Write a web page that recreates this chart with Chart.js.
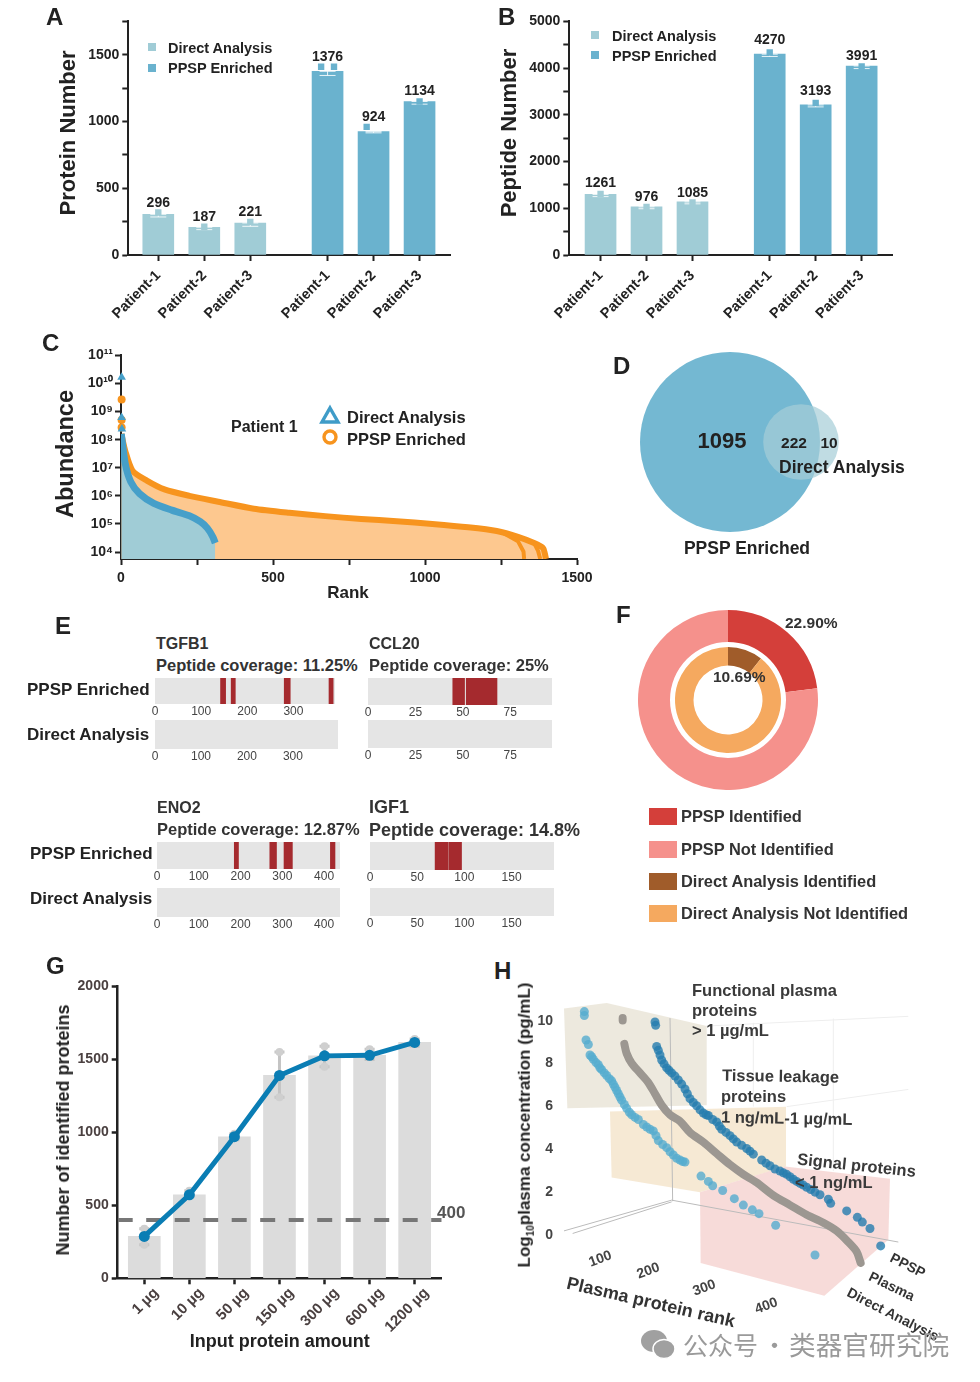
<!DOCTYPE html>
<html>
<head>
<meta charset="utf-8">
<script src="https://cdn.jsdelivr.net/npm/chart.js@4"></script>
<style>
  html, body { margin: 0; background: #fff; }
  #page { position: relative; width: 980px; height: 1382px; overflow: hidden; font-family: "Liberation Sans", Arial, sans-serif; color: #222; }
  #page canvas { position: absolute; }
  .t { position: absolute; white-space: pre; font-weight: bold; line-height: 1; }
  .box { position: absolute; }
</style>
</head>
<body>
<div id="page"></div>
<script>
// ---- data ----
const patients = ['Patient-1', 'Patient-2', 'Patient-3', 'Patient-1', 'Patient-2', 'Patient-3'];
const barSlots = [0, 1, 2, 3.68, 4.68, 5.68];

const proteinLabels = ['296', '187', '221', '1376', '924', '1134'];
const proteinBars = [305, 208, 240, 1376, 924, 1150];
const proteinTop = [332, 225, 262, 1425, 975, 1165];
const proteinLow = [285, 190, 215, 1345, 915, 1130];
const proteinRepX = [0, 1, 2, 3.54, 3.82, 4.53, 5.68];
const proteinRepY = [318, 212, 248, 1410, 1410, 960, 1150];

const peptideLabels = ['1261', '976', '1085', '4270', '3193', '3991'];
const peptideBars = [1297, 1031, 1136, 4299, 3212, 4046];
const peptideTop = [1368, 1066, 1150, 4418, 3345, 4081];
const peptideLow = [1250, 990, 1095, 4250, 3170, 3990];

const abundanceTicks = [1e4, 1e5, 1e6, 1e7, 1e8, 1e9, 1e10, 1e11];
const abundanceNames = ['10⁴', '10⁵', '10⁶', '10⁷', '10⁸', '10⁹', '10¹⁰', '10¹¹'];
const ppspRank = [1, 14, 38, 85, 143, 225, 320, 437, 554, 672, 790, 907, 1024, 1142, 1236, 1306, 1359, 1388, 1394, 1398];
const ppspAbundance = [1.6e8, 4e7, 7.9e6, 3.5e6, 1.7e6, 1e6, 6.2e5, 3.5e5, 2.5e5, 1.9e5, 1.5e5, 1.26e5, 1e5, 7.6e4, 5.6e4, 3.5e4, 2.1e4, 1.4e4, 9.1e3, 5.7e3];
const ppspRank2 = [1236, 1259, 1306, 1324, 1326];
const ppspAbundance2 = [5.6e4, 4.7e4, 2.4e4, 1.05e4, 5.7e3];
const ppspRank3 = [1359, 1372, 1379];
const ppspAbundance3 = [2.1e4, 1.1e4, 5.7e3];
const directRank = [1, 14, 32, 61, 108, 167, 225, 261, 284, 302, 310];
const directAbundance = [1.6e8, 1.4e7, 3.2e6, 1.2e6, 5.4e5, 3.1e5, 1.95e5, 1.2e5, 7.1e4, 3.5e4, 2.1e4];
const ppspTopRank = [2, 2, 2];
const ppspTopAbundance = [2.7e9, 5e8, 2.7e8];
const directTopRank = [2, 2, 3];
const directTopAbundance = [1.66e10, 6.2e8, 2.4e8];

const vennSets = [1317, 232];
const vennCentres = [730, 801];

const ppspShare = [22.9, 77.1];
const directShare = [10.69, 89.31];

const covStrips = [
  // left, top, width, height, sequence length, tick values, covered ranges
  { left: 155, top: 678, w: 180, h: 26, len: 390, ticks: [0, 100, 200, 300], cover: [[142, 153], [165, 174], [280, 293], [377, 386]] },
  { left: 155, top: 720, w: 183, h: 29, len: 398, ticks: [0, 100, 200, 300], cover: [] },
  { left: 368, top: 678, w: 184, h: 27, len: 97, ticks: [0, 25, 50, 75], cover: [[44.7, 50.9], [51.8, 68]] },
  { left: 368, top: 720, w: 184, h: 28, len: 97, ticks: [0, 25, 50, 75], cover: [] },
  { left: 157, top: 842, w: 183, h: 27, len: 438, ticks: [0, 100, 200, 300, 400], cover: [[185, 195], [270, 286], [304, 324], [415, 426]] },
  { left: 157, top: 888, w: 183, h: 29, len: 438, ticks: [0, 100, 200, 300, 400], cover: [] },
  { left: 370, top: 842, w: 184, h: 28, len: 195, ticks: [0, 50, 100, 150], cover: [[69, 83], [84, 97]] },
  { left: 370, top: 888, w: 184, h: 28, len: 195, ticks: [0, 50, 100, 150], cover: [] }
];

const inputAmounts = ['1 µg', '10 µg', '50 µg', '150 µg', '300 µg', '600 µg', '1200 µg'];
const inputBars = [287, 572, 970, 1390, 1524, 1528, 1616];
const inputRepX = [0, 0, 1, 2, 3, 3, 4, 4, 5, 6];
const inputRepY = [230, 340, 600, 990, 1550, 1240, 1590, 1450, 1570, 1640];
const inputLow = [230, 560, 950, 1240, 1450, 1500, 1590];
const inputHigh = [340, 600, 990, 1550, 1590, 1570, 1640];
const cutoff = 400;

const directX = [283, 283, 288, 295, 300, 310, 325, 335, 350, 365, 375, 385, 395, 410, 425, 445, 470, 490, 505, 530, 550, 570, 585, 633, 655, 668, 698, 733, 760, 787, 807, 857, 975,
  305, 318, 330, 343, 358, 370, 380, 390, 403, 418, 435, 460, 480, 498, 518, 540, 560, 578];
const directY = [10.42, 10.24, 9.1, 8.89, 8.4, 8.2, 7.95, 7.72, 7.45, 7.2, 6.9, 6.6, 6.3, 5.92, 5.62, 5.4, 5.05, 4.87, 4.42, 4.09, 3.75, 3.52, 3.42, 2.77, 2.52, 2.32, 2.1, 1.72, 1.42, 1.2, 1.02, 0.48, -0.9,
  8.32, 8.05, 7.8, 7.57, 7.3, 7.05, 6.75, 6.45, 6.1, 5.74, 5.5, 5.17, 4.95, 4.65, 4.24, 3.9, 3.6, 3.45];
const enrichedX = [495, 497, 500, 505, 515, 530, 545, 565, 585, 600, 620, 640, 655, 680, 695, 720, 740, 770, 790, 815, 840, 870, 890, 910, 930, 950, 975, 990, 1015, 1022, 1070, 1102, 1117, 1140, 1172,
  510, 522, 537, 555, 575, 592, 610, 630, 648, 668, 688, 708, 730, 755, 780, 828, 855, 880, 900, 920, 940, 962];
const enrichedY = [9.94, 9.78, 8.8, 8.62, 8.17, 7.8, 7.57, 7.24, 6.82, 6.37, 6.04, 5.7, 5.59, 5.29, 4.95, 4.65, 4.35, 4.05, 3.79, 3.52, 3.25, 3, 2.85, 2.62, 2.43, 2.25, 2.02, 1.9, 1.69, 1.5, 1.15, 0.85, 0.63, 0.33, -0.48,
  8.4, 7.99, 7.69, 7.42, 7.05, 6.6, 6.19, 5.85, 5.62, 5.4, 5.1, 4.8, 4.5, 4.2, 3.93, 3.37, 3.1, 2.92, 2.74, 2.52, 2.35, 2.14];
const plasmaTopX = [398, 398];
const plasmaTopY = [10.12, 10.01];
const plasmaX = [403, 410, 425, 450, 475, 495, 515, 540, 570, 600, 640, 680, 720, 760, 800, 850, 900, 950, 1000, 1040, 1075, 1100, 1112];
const plasmaY = [8.92, 8.47, 8.02, 7.57, 7.12, 6.6, 6.07, 5.62, 5.32, 4.8, 4.35, 3.82, 3.3, 2.85, 2.47, 1.87, 1.42, 0.97, 0.6, 0.22, -0.3, -0.75, -1.27];
const planes = [
  { color: 'rgba(232,227,214,.8)', pts: [[222, 10.57], [350, 10.82], [650, 9.75], [650, 6.07], [232, 5.92]] },
  { color: 'rgba(245,229,205,.85)', pts: [[360, 5.77], [888, 6], [888, 3.22], [630, 2.02], [365, 2.7]] },
  { color: 'rgba(246,213,210,.85)', pts: [[630, 2.02], [885, 3.22], [1200, 2.65], [1195, -0.19], [1003, -2.8], [632, -1.27]] }
];
const frameLines = [
  [[222, 0.22], [545, 1.65]], [[248, 0.1], [545, 1.57]], [[545, 1.65], [1225, -0.3]], [[540, 10.12], [548, 1.6]]
];
const faintLines = [
  [[650, 9.75], [1255, 10.2]], [[790, 9.9], [790, 6]], [[1030, 10.1], [1030, 3]], [[890, 6], [1255, 6.8]]
];

// ---- helpers ----
const page = document.getElementById('page');
Chart.defaults.font.family = '"Liberation Sans", Arial, sans-serif';
Chart.defaults.font.weight = 'bold';
Chart.defaults.color = '#222';
Chart.defaults.animation = false;
Chart.defaults.layout.autoPadding = false;

function makeCanvas(left, top, w, h) {
  const c = document.createElement('canvas');
  c.width = w; c.height = h;
  c.style.left = left + 'px'; c.style.top = top + 'px';
  c.style.width = w + 'px'; c.style.height = h + 'px';
  page.appendChild(c);
  return c;
}

function label(text, x, y, size, opts) {
  opts = opts || {};
  const d = document.createElement('div');
  d.className = 't';
  d.innerHTML = text;
  d.style.left = x + 'px'; d.style.top = y + 'px';
  d.style.fontSize = size + 'px';
  if (opts.color) d.style.color = opts.color;
  if (opts.font) d.style.fontFamily = opts.font;
  if (opts.normal) d.style.fontWeight = 'normal';
  const shift = opts.center ? '-50%' : '0';
  d.style.transform = 'translate(' + shift + ',-50%)' + (opts.rot ? ' rotate(' + opts.rot + 'deg)' : '');
  d.style.zIndex = 5;
  page.appendChild(d);
  return d;
}

function swatch(x, y, w, h, color) {
  const d = document.createElement('div');
  d.className = 'box';
  d.style.cssText += 'left:' + x + 'px;top:' + y + 'px;width:' + w + 'px;height:' + h + 'px;background:' + color + ';z-index:5';
  page.appendChild(d);
}

function inlay(b, p) {
  return {
    padding: { left: 0, top: p.top - b.top, right: b.left + b.w - p.right, bottom: 0 },
    yWidth: p.left - b.left,
    xHeight: b.top + b.h - p.bottom
  };
}

function axisLook(width) {
  return {
    offset: false,
    border: { display: true, color: '#222', width: width },
    grid: { offset: false, drawOnChartArea: false, drawTicks: true, tickLength: 6, tickWidth: width, color: '#222' }
  };
}

function whiskers(xs, lows, highs, color, width, cap) {
  return {
    id: 'whiskers',
    afterDatasetDraw(chart, args) {
      if (args.index !== 0) return;
      const ctx = chart.ctx, sx = chart.scales.x, sy = chart.scales.y;
      ctx.save();
      ctx.strokeStyle = color; ctx.lineWidth = width;
      xs.forEach((v, i) => {
        const px = sx.getPixelForValue(v), lo = sy.getPixelForValue(lows[i]), hi = sy.getPixelForValue(highs[i]);
        ctx.beginPath();
        ctx.moveTo(px, lo); ctx.lineTo(px, hi);
        ctx.moveTo(px - cap, lo); ctx.lineTo(px + cap, lo);
        ctx.moveTo(px - cap, hi); ctx.lineTo(px + cap, hi);
        ctx.stroke();
      });
      ctx.restore();
    }
  };
}

function patientBars(cfg) {
  const fit = inlay(cfg.box, cfg.plot);
  const colors = barSlots.map((_, i) => i < 3 ? '#a0ccd6' : '#6ab2ce');
  const repX = cfg.repX || barSlots;
  const repY = cfg.repY || cfg.top.map((v, i) => (v + cfg.low[i]) / 2);
  new Chart(makeCanvas(cfg.box.left, cfg.box.top, cfg.box.w, cfg.box.h), {
    type: 'bar',
    data: {
      datasets: [{
        data: barSlots.map((x, i) => ({ x: x, y: cfg.bars[i] })),
        backgroundColor: colors, barThickness: 31, order: 3
      }, {
        type: 'scatter',
        data: repX.map((x, i) => ({ x: x, y: repY[i] })),
        pointStyle: 'rect', pointRadius: 4.5, pointBackgroundColor: repX.map(x => x < 3 ? '#a0ccd6' : '#6ab2ce'), pointBorderWidth: 0, order: 2
      }]
    },
    options: {
      responsive: false,
      layout: { padding: fit.padding },
      plugins: { legend: { display: false }, tooltip: { enabled: false } },
      scales: {
        x: Object.assign(axisLook(2), {
          type: 'linear', min: cfg.xMin, max: cfg.xMax,
          afterBuildTicks(s) { s.ticks = barSlots.map(v => ({ value: v })); },
          afterFit(s) { s.height = fit.xHeight; },
          ticks: { autoSkip: false, minRotation: 45, maxRotation: 45, padding: 6, font: { size: 14.5 }, callback: (v, i) => patients[i] }
        }),
        y: Object.assign(axisLook(2), {
          min: 0, max: cfg.max,
          afterFit(s) { s.width = fit.yWidth; },
          ticks: {
            stepSize: cfg.minor, includeBounds: false, padding: 3, font: { size: 14 },
            callback: v => v % cfg.major === 0 ? String(v) : ''
          }
        })
      }
    },
    plugins: [whiskers(barSlots, cfg.low, cfg.top.map((v, i) => Math.min(v, cfg.bars[i])), 'rgba(255,255,255,.85)', 1, 8), {
      id: 'valueLabels',
      afterDatasetsDraw(chart) {
        const ctx = chart.ctx;
        ctx.save();
        ctx.font = 'bold 14px "Liberation Sans"';
        ctx.fillStyle = '#222'; ctx.textAlign = 'center'; ctx.textBaseline = 'middle';
        barSlots.forEach((x, i) => {
          ctx.fillText(cfg.labels[i], chart.scales.x.getPixelForValue(x), chart.scales.y.getPixelForValue(cfg.top[i]) - 8);
        });
        ctx.restore();
      }
    }]
  });
}

// ---- A ----
patientBars({
  box: { left: 55, top: 10, w: 405, h: 320 }, plot: { left: 128.3, top: 17.8, right: 450.7, bottom: 255 },
  xMin: -0.652, xMax: 6.357, max: 1750, minor: 250, major: 500,
  bars: proteinBars, top: proteinTop, low: proteinLow, labels: proteinLabels, repX: proteinRepX, repY: proteinRepY
});
label('A', 46, 17, 24);
label('Protein Number', 68, 133, 22, { center: true, rot: -90 });
swatch(148, 43, 8, 8, '#a0ccd6'); swatch(148, 64, 8, 8, '#6ab2ce');
label('Direct Analysis', 168, 48, 14.5); label('PPSP Enriched', 168, 68, 14.5);

// ---- B ----
patientBars({
  box: { left: 497, top: 10, w: 405, h: 320 }, plot: { left: 569.3, top: 17.3, right: 892, bottom: 255 },
  xMin: -0.68, xMax: 6.34, max: 5000, minor: 500, major: 1000,
  bars: peptideBars, top: peptideTop, low: peptideLow, labels: peptideLabels
});
label('B', 498, 17, 24);
label('Peptide Number', 509, 133, 22, { center: true, rot: -90 });
swatch(591, 31, 8, 8, '#a0ccd6'); swatch(591, 51, 8, 8, '#6ab2ce');
label('Direct Analysis', 612, 36, 14.5); label('PPSP Enriched', 612, 56, 14.5);

// ---- C ----
(function () {
  const box = { left: 52, top: 345, w: 560, h: 258 }, fit = inlay(box, { left: 121, top: 354, right: 577, bottom: 559 });
  const pts = (xs, ys) => xs.map((x, i) => ({ x: x, y: ys[i] }));
  new Chart(makeCanvas(box.left, box.top, box.w, box.h), {
    type: 'scatter',
    data: {
      datasets: [
        { data: pts(directTopRank, directTopAbundance), pointStyle: 'triangle', pointRadius: 5, pointBackgroundColor: '#469fc9', pointBorderWidth: 0, clip: false, order: 1 },
        { data: pts(directRank, directAbundance), showLine: true, borderColor: '#469fc9', borderWidth: 7, tension: 0.25, pointRadius: 0, fill: 'start', backgroundColor: '#a0ccd6', order: 2 },
        { data: pts(ppspTopRank, ppspTopAbundance), pointRadius: 4, pointBackgroundColor: '#f7941e', pointBorderWidth: 0, clip: false, order: 3 },
        { data: pts(ppspRank3, ppspAbundance3), showLine: true, borderColor: '#f7941e', borderWidth: 4, pointRadius: 0, order: 4 },
        { data: pts(ppspRank2, ppspAbundance2), showLine: true, borderColor: '#f7941e', borderWidth: 4, pointRadius: 0, order: 5 },
        { data: pts(ppspRank, ppspAbundance), showLine: true, borderColor: '#f7941e', borderWidth: 6, tension: 0.25, pointRadius: 0, fill: 'start', backgroundColor: '#fdc88f', order: 6 }
      ]
    },
    options: {
      responsive: false,
      layout: { padding: fit.padding },
      plugins: { legend: { display: false }, tooltip: { enabled: false } },
      scales: {
        x: Object.assign(axisLook(2), {
          type: 'linear', min: 0, max: 1500,
          afterFit(s) { s.height = fit.xHeight; },
          ticks: { stepSize: 250, maxRotation: 0, padding: 5, font: { size: 14 }, callback: v => v % 500 === 0 ? String(v) : '' }
        }),
        y: Object.assign(axisLook(2), {
          type: 'logarithmic', min: 5660, max: 1e11,
          afterBuildTicks(s) { s.ticks = abundanceTicks.map(v => ({ value: v })); },
          afterFit(s) { s.width = fit.yWidth; },
          ticks: { autoSkip: false, padding: 2, font: { size: 14 }, callback: (v, i) => abundanceNames[i] }
        })
      }
    }
  });
  label('C', 42, 343, 24);
  label('Abundance', 66, 454, 23.5, { center: true, rot: -90 });
  label('Rank', 348, 592, 17, { center: true });
  label('Patient 1', 231, 427, 16);
  label('Direct Analysis', 347, 417, 16.5); label('PPSP Enriched', 347, 439, 16.5);
  const marks = document.createElement('div');
  marks.className = 'box';
  marks.style.cssText += 'left:316px;top:400px;z-index:5';
  marks.innerHTML = '<svg width="30" height="50"><path d="M14 8 L22 22 L6 22 Z" fill="none" stroke="#3f9cc8" stroke-width="3.4"/><circle cx="14" cy="37" r="6" fill="none" stroke="#f7941e" stroke-width="3.4"/></svg>';
  page.appendChild(marks);
})();

// ---- D ----
(function () {
  new Chart(makeCanvas(630, 342, 230, 200), {
    type: 'scatter',
    data: {
      datasets: [
        { data: [{ x: vennCentres[1], y: 0 }], pointRadius: Math.sqrt(vennSets[1]) * 2.48, pointBackgroundColor: 'rgba(166,205,215,.71)', pointBorderWidth: 0, clip: false, order: 1 },
        { data: [{ x: vennCentres[0], y: 0 }], pointRadius: Math.sqrt(vennSets[0]) * 2.48, pointBackgroundColor: '#74b8d2', pointBorderWidth: 0, clip: false, order: 2 }
      ]
    },
    options: {
      responsive: false,
      plugins: { legend: { display: false }, tooltip: { enabled: false } },
      scales: {
        x: { display: false, type: 'linear', min: 630, max: 860 },
        y: { display: false, min: -100, max: 100 }
      }
    }
  });
  label('D', 613, 366, 24);
  label('1095', 722, 441, 22, { center: true });
  label('222', 794, 443, 15.5, { center: true });
  label('10', 829, 443, 15.5, { center: true });
  label('Direct Analysis', 779, 468, 17.5);
  label('PPSP Enriched', 747, 549, 17.5, { center: true });
})();

// ---- E ----
covStrips.forEach(s => {
  const margin = 16, under = 20;
  const datasets = s.cover.map(r => ({ data: [r], backgroundColor: '#a52a2e', grouped: false, order: 1 }));
  datasets.push({ data: [[0, s.len]], backgroundColor: '#e5e5e5', grouped: false, order: 2 });
  new Chart(makeCanvas(s.left - margin, s.top, s.w + margin * 2, s.h + under), {
    type: 'bar',
    data: { labels: [''], datasets: datasets },
    options: {
      responsive: false,
      indexAxis: 'y',
      layout: { padding: { left: margin, right: margin, top: 0, bottom: 0 } },
      plugins: { legend: { display: false }, tooltip: { enabled: false } },
      datasets: { bar: { barPercentage: 1, categoryPercentage: 1 } },
      scales: {
        x: {
          type: 'linear', min: 0, max: s.len,
          grid: { display: false, drawTicks: false }, border: { display: false },
          afterBuildTicks(a) { a.ticks = s.ticks.map(v => ({ value: v })); },
          afterFit(a) { a.height = under; },
          ticks: { autoSkip: false, maxRotation: 0, padding: 0, color: '#444', font: { size: 12, weight: 'normal' } }
        },
        y: { display: false }
      }
    }
  });
});
label('E', 55, 626, 24);
label('TGFB1', 156, 644, 16, { color: '#333' });
label('Peptide coverage: 11.25%', 156, 665, 16.5, { color: '#333' });
label('CCL20', 369, 644, 16, { color: '#333' });
label('Peptide coverage: 25%', 369, 665, 16.5, { color: '#333' });
label('ENO2', 157, 808, 16, { color: '#333' });
label('Peptide coverage: 12.87%', 157, 829, 16.5, { color: '#333' });
label('IGF1', 369, 807, 18, { color: '#333' });
label('Peptide coverage: 14.8%', 369, 830, 18, { color: '#333' });
label('PPSP Enriched', 27, 689, 17); label('Direct Analysis', 27, 734, 17);
label('PPSP Enriched', 30, 853, 17); label('Direct Analysis', 30, 898, 17);

// ---- F ----
new Chart(makeCanvas(638, 610, 180, 180), {
  type: 'doughnut',
  data: {
    datasets: [
      { data: ppspShare, backgroundColor: ['#d43f3a', '#f5918c'], borderWidth: 0, weight: 32 },
      { data: [1], backgroundColor: ['rgba(0,0,0,0)'], borderWidth: 0, weight: 5 },
      { data: directShare, backgroundColor: ['#a05c2a', '#f5a95f'], borderWidth: 0, weight: 18.5 }
    ]
  },
  options: {
    responsive: false, cutout: 34.5,
    plugins: { legend: { display: false }, tooltip: { enabled: false } }
  }
});
label('F', 616, 615, 24);
label('22.90%', 785, 623, 15.5, { color: '#333' });
label('10.69%', 713, 677, 15.5, { color: '#333' });
[['PPSP Identified', '#d43f3a', 816], ['PPSP Not Identified', '#f5918c', 849], ['Direct Analysis Identified', '#a05c2a', 881], ['Direct Analysis Not Identified', '#f5a95f', 913]].forEach(r => {
  swatch(649, r[2] - 8.5, 28, 17, r[1]);
  label(r[0], 681, r[2], 16.4, { color: '#333' });
});

// ---- G ----
(function () {
  const slots = inputAmounts.map((_, i) => i);
  const box = { left: 50, top: 975, w: 400, h: 378 }, fit = inlay(box, { left: 117.7, top: 981, right: 441.7, bottom: 1278.3 });
  const xMin = -0.59, xMax = 6.6;
  new Chart(makeCanvas(box.left, box.top, box.w, box.h), {
    type: 'bar',
    data: {
      datasets: [
        { data: slots.map(i => ({ x: i, y: inputBars[i] })), backgroundColor: '#dcdcdc', barThickness: 32, order: 4 },
        { type: 'scatter', data: inputRepX.map((x, i) => ({ x: x, y: inputRepY[i] })), pointRadius: 4, pointBackgroundColor: '#cfcfcf', pointBorderWidth: 0, order: 3 },
        { type: 'line', data: [{ x: xMin, y: cutoff }, { x: xMax, y: cutoff }], borderColor: '#777', borderWidth: 4, borderDash: [15, 13.5], pointRadius: 0, order: 2 },
        { type: 'line', data: slots.map(i => ({ x: i, y: inputBars[i] })), borderColor: '#0a7db4', borderWidth: 5, pointRadius: 5.5, pointBackgroundColor: '#0a7db4', pointBorderWidth: 0, tension: 0, order: 1 }
      ]
    },
    options: {
      responsive: false,
      layout: { padding: fit.padding },
      plugins: { legend: { display: false }, tooltip: { enabled: false } },
      scales: {
        x: Object.assign(axisLook(2.5), {
          type: 'linear', min: xMin, max: xMax,
          afterBuildTicks(s) { s.ticks = slots.map(v => ({ value: v })); },
          afterFit(s) { s.height = fit.xHeight; },
          title: { display: true, text: 'Input protein amount', font: { size: 18 }, padding: 0, color: '#222' },
          ticks: { autoSkip: false, minRotation: 45, maxRotation: 45, padding: 0, labelOffset: 12, color: '#4a4040', font: { size: 15 }, callback: (v, i) => inputAmounts[i] }
        }),
        y: Object.assign(axisLook(2.5), {
          min: 0, max: 2000,
          afterFit(s) { s.width = fit.yWidth; },
          ticks: { stepSize: 500, padding: 3, color: '#4a4040', font: { size: 14 }, callback: v => String(v) }
        })
      }
    },
    plugins: [whiskers(slots, inputLow, inputHigh, '#c4c4c4', 3, 5)]
  });
  label('G', 46, 966, 24);
  label('Number of identified proteins', 63, 1130, 18, { center: true, rot: -90 });
  label('400', 437, 1212, 17, { color: '#555' });
})();

// ---- H ----
(function () {
  const pts = (xs, ys) => xs.map((x, i) => ({ x: x, y: ys[i] }));
  const box = { left: 520, top: 975, w: 450, h: 360 }, plotLeft = 558;
  new Chart(makeCanvas(box.left, box.top, box.w, box.h), {
    type: 'scatter',
    data: {
      datasets: [
        { data: pts(enrichedX, enrichedY), pointRadius: 4.5, pointBackgroundColor: 'rgba(38,125,175,.8)', pointBorderWidth: 0, order: 1 },
        { data: pts(directX, directY), pointRadius: 4.5, pointBackgroundColor: 'rgba(85,172,208,.8)', pointBorderWidth: 0, order: 2 },
        { data: pts(plasmaTopX, plasmaTopY), showLine: true, borderColor: '#9c9791', borderWidth: 8, borderCapStyle: 'round', pointRadius: 0, order: 3 },
        { data: pts(plasmaX, plasmaY), showLine: true, borderColor: '#9c9791', borderWidth: 8, borderCapStyle: 'round', tension: 0.3, pointRadius: 0, order: 4 }
      ]
    },
    options: {
      responsive: false,
      layout: { padding: { top: 7.6, bottom: 7.8, left: 0, right: 0 } },
      plugins: { legend: { display: false }, tooltip: { enabled: false } },
      scales: {
        x: { display: false, type: 'linear', min: 204, max: 1440 },
        y: {
          min: -4, max: 11.5,
          grid: { display: false, drawTicks: false }, border: { display: false },
          afterBuildTicks(s) { s.ticks = [0, 2, 4, 6, 8, 10].map(v => ({ value: v })); },
          afterFit(s) { s.width = plotLeft - box.left; },
          ticks: { padding: 5, color: '#444', font: { size: 14 } }
        }
      }
    },
    plugins: [{
      id: 'planes',
      beforeDatasetsDraw(chart) {
        const ctx = chart.ctx, sx = chart.scales.x, sy = chart.scales.y;
        const stroke = (seg, color) => {
          ctx.strokeStyle = color; ctx.lineWidth = 1;
          ctx.beginPath();
          ctx.moveTo(sx.getPixelForValue(seg[0][0]), sy.getPixelForValue(seg[0][1]));
          ctx.lineTo(sx.getPixelForValue(seg[1][0]), sy.getPixelForValue(seg[1][1]));
          ctx.stroke();
        };
        ctx.save();
        faintLines.forEach(s => stroke(s, '#eeeeee'));
        planes.forEach(p => {
          ctx.fillStyle = p.color;
          ctx.beginPath();
          p.pts.forEach((v, i) => {
            const px = sx.getPixelForValue(v[0]), py = sy.getPixelForValue(v[1]);
            if (i) ctx.lineTo(px, py); else ctx.moveTo(px, py);
          });
          ctx.closePath();
          ctx.fill();
        });
        frameLines.forEach(s => stroke(s, '#bbbbbb'));
        ctx.restore();
      }
    }]
  });
  label('H', 494, 971, 24);
  label('Log<sub style="font-size:10px">10</sub>plasma concentration (pg/mL)', 526, 1125, 17, { center: true, rot: -90 });
  const note = { color: '#3a3a3a' };
  label('Functional plasma', 692, 990, 16.5, note);
  label('proteins', 692, 1010, 16.5, note);
  label('&gt; 1 µg/mL', 692, 1030, 16.5, note);
  label('Tissue leakage', 722, 1076, 16.5, Object.assign({ rot: 1 }, note));
  label('proteins', 721, 1096, 16.5, note);
  label('1 ng/mL-1 µg/mL', 721, 1118, 16.5, Object.assign({ rot: 1 }, note));
  label('Signal proteins', 797, 1165, 16.5, Object.assign({ rot: 6 }, note));
  label('&lt; 1 ng/mL', 795, 1182, 16.5, note);
  [['100', 600, 1258], ['200', 648, 1270], ['300', 704, 1287], ['400', 766, 1305]].forEach(r => label(r[0], r[1], r[2], 14, { center: true, rot: -20, color: '#444' }));
  label('Plasma protein rank', 651, 1302, 18, { center: true, rot: 13, color: '#333' });
  label('PPSP', 908, 1265, 14, { center: true, rot: 27, color: '#333' });
  label('Plasma', 892, 1286, 14, { center: true, rot: 26, color: '#333' });
  label('Direct Analysis', 893, 1314, 14, { center: true, rot: 27, color: '#333' });

  // watermark
  const logo = document.createElement('div');
  logo.className = 'box';
  logo.style.cssText += 'left:640px;top:1328px;z-index:6';
  logo.innerHTML = '<svg width="36" height="34"><ellipse cx="14" cy="13" rx="13" ry="11" fill="#a0a0a0"/><ellipse cx="24" cy="21" rx="11" ry="9.5" fill="#a0a0a0" stroke="#fff" stroke-width="1.5"/></svg>';
  page.appendChild(logo);
  const mark = { font: '"Noto Sans CJK SC"', normal: true, color: '#9a9a9a' };
  label('公众号', 683, 1344, 25, mark);
  label('·', 762, 1344, 25, mark);
  label('类器官研究院', 789, 1344, 26.7, mark);
})();
</script>
</body>
</html>
